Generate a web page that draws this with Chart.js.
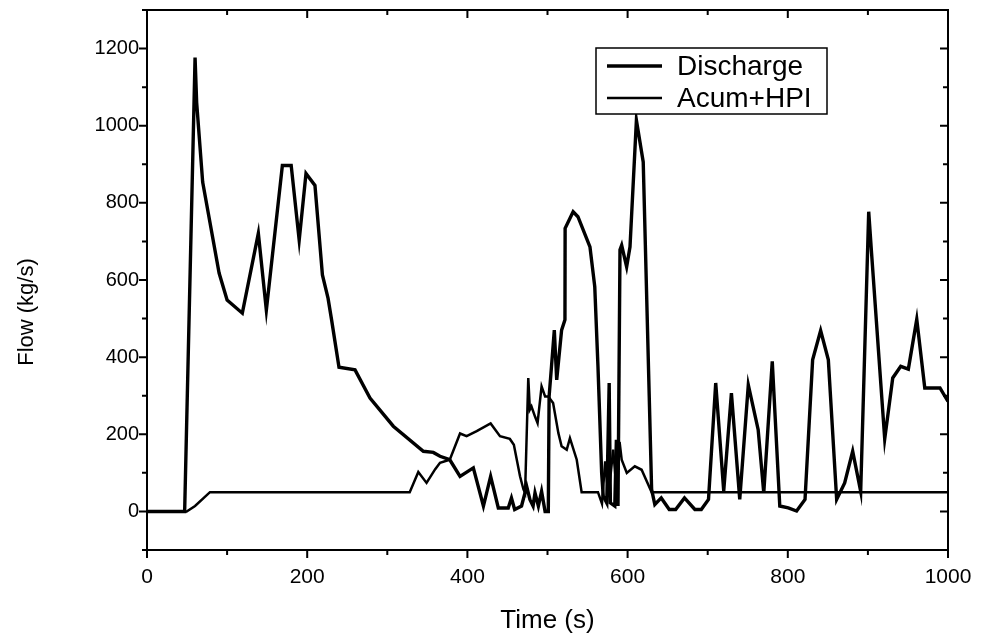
<!DOCTYPE html>
<html>
<head>
<meta charset="utf-8">
<script src="https://cdn.jsdelivr.net/npm/chart.js@4.4.0/dist/chart.umd.min.js"></script>
<style>
  html, body { margin: 0; padding: 0; background: #fff; }
  #wrap { width: 982px; height: 637px; }
</style>
</head>
<body>
<div id="wrap"><canvas id="flowChart" width="982" height="637"></canvas></div>
<script>
// Break discharge (time in s, flow in kg/s)
const dischargeTime = [0, 47, 60, 62, 69.5, 90, 100, 119, 139, 149, 169, 180, 190, 198.5, 209.7, 219, 226, 230.5,
    239.7, 259.7, 278.4, 307.5, 345, 357.5, 365.8, 378, 390.8, 407.4, 420, 429, 438.6, 451, 455, 459, 467.6,
    474, 478, 482, 484.4, 488.6, 492.6, 497, 501, 502, 505, 508.5, 511.5, 517.6, 521.8, 522, 532, 538, 553,
    559, 563, 567.6, 569.6, 574, 577, 578.5, 584, 586, 588, 590.5, 592.6, 598.8, 603, 611, 619.5, 630, 634,
    642, 652, 660, 671, 684, 692, 701, 710, 720, 729.6, 740, 750.7, 763, 770, 780.6, 790, 800.6, 811, 821.5,
    831, 841, 850.6, 861, 871, 881, 891, 901, 904.6, 921, 931, 941, 950.5, 961, 971, 990, 1000];
const dischargeFlow = [0, 0, 1177, 1060, 854, 618, 548, 514, 721, 522, 897, 897, 703, 876, 845, 613, 553, 496,
    374, 367, 294, 221, 156, 153, 143, 134, 91, 113, 14, 91, 9, 9, 35, 5, 14,
    65, 31, 14, 48, 14, 52, 0, 0, 298, 376, 470, 341, 470, 497, 734, 777, 764, 686,
    583, 376, 100, 40, 22, 333, 22, 14, 186, 14, 678, 690, 634, 686, 1014, 906, 57, 18,
    35, 5, 5, 35, 5, 5, 31, 333, 53, 307, 31, 328, 212, 48, 389, 14, 9, 1, 31,
    393, 469, 393, 31, 74, 156, 52, 777, 669, 188, 346, 376, 369, 498, 320, 320, 285];

// Accumulator + HPI injection
const acumTime = [0, 49.5, 60, 78.6, 328, 338.7, 349, 359.6, 365.8, 378, 390.8, 399, 411.6, 429, 440.7, 453,
    458, 465.7, 470, 472, 476, 478, 480, 484.4, 487.6, 492.6, 497, 501, 507, 513.6, 517.6, 524, 528, 536.5,
    542.6, 563, 568, 572, 576, 582, 586, 590, 592.6, 599, 609, 617.5, 630, 1000];
const acumFlow = [0, 0, 14, 50, 50, 102, 74, 109, 126, 134, 202, 195, 208, 228, 195, 188,
    173, 91, 57, 48, 346, 264, 272, 246, 229, 324, 298, 298, 281, 203, 169, 160, 190, 134,
    50, 50, 20, 130, 40, 160, 60, 180, 134, 100, 117, 108, 50, 50];

const xTickLabels = [0, 200, 400, 600, 800, 1000];
const yTickLabels = [0, 200, 400, 600, 800, 1000, 1200];

const fontFamily = '"Liberation Sans", Arial, sans-serif';

function toPoints(xs, ys) {
    return xs.map((t, i) => ({ x: t, y: ys[i] }));
}

// Box around the plot with Origin-style ticks (out on left/bottom, in on top/right)
const frameTicks = {
    id: 'frameTicks',
    afterDraw(chart) {
        const { ctx, chartArea: a, scales: { x, y } } = chart;
        ctx.save();
        ctx.strokeStyle = '#000';
        ctx.lineWidth = 2;
        ctx.strokeRect(a.left, a.top, a.right - a.left, a.bottom - a.top);
        ctx.beginPath();
        for (let v = x.min; v <= x.max; v += 100) {
            const px = x.getPixelForValue(v);
            const len = v % 200 === 0 ? 8 : 5;
            ctx.moveTo(px, a.bottom); ctx.lineTo(px, a.bottom + len);
            ctx.moveTo(px, a.top); ctx.lineTo(px, a.top + len);
        }
        for (let v = y.min; v <= y.max; v += 100) {
            const py = y.getPixelForValue(v);
            const len = v % 200 === 0 ? 8 : 5;
            ctx.moveTo(a.left - len, py); ctx.lineTo(a.left, py);
            ctx.moveTo(a.right - len, py); ctx.lineTo(a.right, py);
        }
        ctx.stroke();

        // y axis title sits a bit below the middle in the original figure
        ctx.translate(27, y.getPixelForValue(517));
        ctx.rotate(-Math.PI / 2);
        ctx.font = '22px ' + fontFamily;
        ctx.textAlign = 'center';
        ctx.textBaseline = 'middle';
        ctx.fillStyle = '#000';
        ctx.fillText('Flow (kg/s)', 0, 0);
        ctx.restore();
    }
};

// Legend box in the upper right, drawn from the dataset labels and widths
const boxLegend = {
    id: 'boxLegend',
    afterDraw(chart) {
        const ctx = chart.ctx;
        const left = 596, top = 48, w = 231, h = 66;
        ctx.save();
        ctx.fillStyle = '#fff';
        ctx.fillRect(left, top, w, h);
        ctx.strokeStyle = '#000';
        ctx.lineWidth = 1.5;
        ctx.strokeRect(left, top, w, h);
        ctx.font = '28px ' + fontFamily;
        ctx.textBaseline = 'middle';
        ctx.fillStyle = '#000';
        chart.data.datasets.forEach((ds, i) => {
            const rowY = top + 18 + i * 32;
            ctx.lineWidth = ds.borderWidth;
            ctx.beginPath();
            ctx.moveTo(left + 11, rowY);
            ctx.lineTo(left + 66, rowY);
            ctx.stroke();
            ctx.fillText(ds.label, left + 81, rowY + 1);
        });
        ctx.restore();
    }
};

new Chart(document.getElementById('flowChart'), {
    type: 'line',
    data: {
        datasets: [
            {
                label: 'Discharge',
                data: toPoints(dischargeTime, dischargeFlow),
                borderColor: '#000',
                borderWidth: 3.4,
                pointRadius: 0,
                tension: 0,
                fill: false
            },
            {
                label: 'Acum+HPI',
                data: toPoints(acumTime, acumFlow),
                borderColor: '#000',
                borderWidth: 2.5,
                pointRadius: 0,
                tension: 0,
                fill: false
            }
        ]
    },
    options: {
        responsive: false,
        animation: false,
        layout: { padding: { top: 10, right: 34, bottom: 0, left: 0 } },
        plugins: {
            legend: { display: false },
            tooltip: { enabled: false }
        },
        scales: {
            x: {
                type: 'linear',
                min: 0,
                max: 1000,
                afterBuildTicks: s => { s.ticks = xTickLabels.map(v => ({ value: v })); },
                afterFit: s => { s.height = 87; },
                // grid hidden, tickLength only used as the gap to the labels
                grid: { display: false, drawTicks: true, tickLength: 17 },
                border: { display: false },
                ticks: {
                    color: '#000',
                    font: { family: fontFamily, size: 21, lineHeight: 1 },
                    padding: 0,
                    maxRotation: 0,
                    autoSkip: false,
                    callback: v => String(v)
                },
                title: {
                    display: true,
                    text: 'Time (s)',
                    color: '#000',
                    font: { family: fontFamily, size: 26, lineHeight: 1 },
                    padding: { top: 0, bottom: 3 }
                }
            },
            y: {
                min: -100,
                max: 1300,
                afterBuildTicks: s => { s.ticks = yTickLabels.map(v => ({ value: v })); },
                afterFit: s => { s.width = 147; },
                grid: { display: false, drawTicks: true, tickLength: 8 },
                border: { display: false },
                ticks: {
                    color: '#000',
                    font: { family: fontFamily, size: 20, lineHeight: 1 },
                    padding: 0,
                    autoSkip: false,
                    callback: v => String(v)
                },
                title: { display: false }
            }
        }
    },
    plugins: [frameTicks, boxLegend]
});
</script>
</body>
</html>
